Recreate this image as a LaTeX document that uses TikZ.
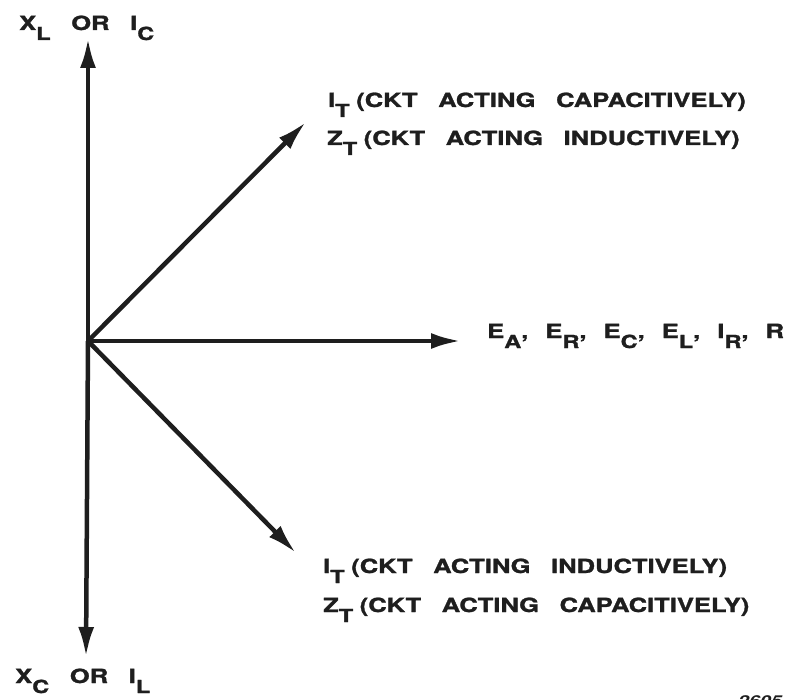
\documentclass[tikz,border=0pt]{standalone}
\usepackage{fontspec}
\usepackage{graphicx}
\usetikzlibrary{arrows.meta}
\newfontfamily\lblfont[WordSpace=2.9, BoldFeatures={FakeBold=1.2}]{TeX Gyre Heros}
\newcommand\sbs[1]{\raisebox{-10pt}{\fontsize{18}{18}\selectfont #1}}
\newcommand\wide[1]{\scalebox{1.31}[1]{#1}}
\newcommand\gp{\hspace{13pt}}
\definecolor{ink}{HTML}{1E1E1E}
\tikzset{
  vec/.style={line width=4.5pt, draw=ink, -{Latex[length=30pt,width=16pt]}},
  lbl/.style={anchor=base west, inner sep=0pt, text=ink, font=\lblfont\bfseries\fontsize{19.5}{24}\selectfont}
}
\begin{document}
\begin{tikzpicture}[x=1pt,y=-1pt]
\useasboundingbox (0,0) rectangle (794,700);
\coordinate (O) at (88,341);
\coordinate (top) at (88,38);
\coordinate (bot) at (86,657);
\coordinate (rt) at (461,341);
\coordinate (ur) at (306,122);
\coordinate (lr) at (296,553);
\draw[vec] (O) -- (top);
\draw[vec] (O) -- (bot);
\draw[vec] (O) -- (rt);
\draw[vec] (O) -- (ur);
\draw[vec] (O) -- (lr);
\node[lbl] (tl) at (19,30) {\wide{X\sbs{L} OR I\sbs{C}}};
\node[lbl] (bl) at (15,683) {\wide{X\sbs{C} OR I\sbs{L}}};
\node[lbl] (u1) at (328,107) {\wide{I\sbs{T}\hspace{5pt}(CKT ACTING CAPACITIVELY)}};
\node[lbl] (u2) at (327,145) {\wide{Z\sbs{T}\hspace{5pt}(CKT ACTING INDUCTIVELY)}};
\node[lbl] (r) at (487,338) {\wide{E\sbs{A},\gp E\sbs{R},\gp E\sbs{C},\gp E\sbs{L},\gp I\sbs{R},\gp R}};
\node[lbl] (l1) at (323,573) {\wide{I\sbs{T}\hspace{5pt}(CKT ACTING INDUCTIVELY)}};
\node[lbl] (l2) at (323,612) {\wide{Z\sbs{T}\hspace{5pt}(CKT ACTING CAPACITIVELY)}};
\begin{scope}
\clip (0,0) rectangle (794,700);
\node[anchor=base west, inner sep=0pt, text=ink, font=\lblfont\bfseries\itshape\fontsize{15}{18}\selectfont] (num) at (738,706) {\wide{2605}};
\end{scope}
\end{tikzpicture}
\end{document}
